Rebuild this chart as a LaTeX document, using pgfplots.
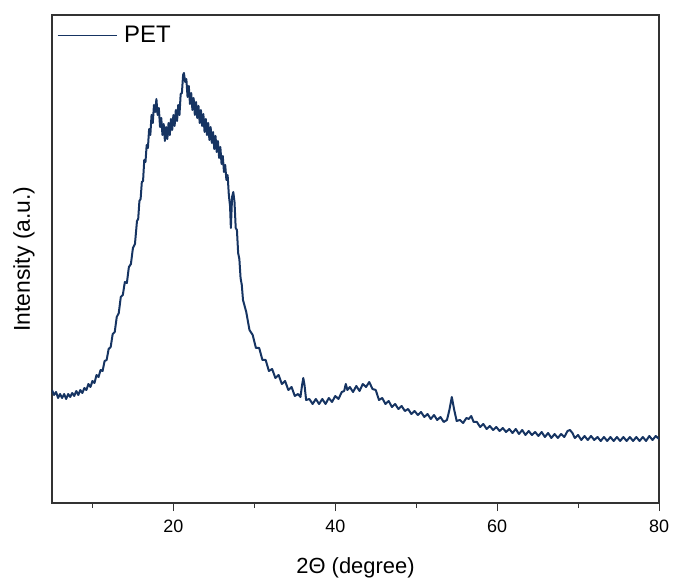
\documentclass[border=0pt]{standalone}
\usepackage{pgfplots}
\pgfplotsset{compat=1.18}
\usepackage{fontspec}
\setmainfont{Liberation Sans}
\definecolor{curve}{RGB}{22,52,98}
\begin{document}
\begin{tikzpicture}
\path[use as bounding box] (-52bp,-81bp) rectangle (623bp,503bp);
\begin{axis}[
 at={(0,0)}, anchor=south west,
 scale only axis, width=607bp, height=488bp,
 xmin=5, xmax=80, ymin=0, ymax=488,
 xtick={20,40,60,80}, minor xtick={10,30,50,70},
 ytick=\empty,
 xtick pos=bottom, tick align=outside,
 major tick length=8bp, minor tick length=5bp,
 axis line style={line width=1.2bp, color=black!80},
 tick style={line width=1bp, color=black!80},
 /pgf/number format/assume math mode=true,
 xticklabel style={font=\fontsize{18}{21}\selectfont, yshift=-5bp},
 xlabel={2Θ (degree)},
 ylabel={Intensity (a.u.)},
 xlabel style={at={(axis description cs:0.5,-0.133)}, anchor=center, font=\fontsize{22}{26}\selectfont},
 ylabel style={at={(axis description cs:-0.046,0.5)}, anchor=center, font=\fontsize{23}{27}\selectfont},
 legend style={at={(axis description cs:0,1)}, anchor=north west, draw=none, fill=none,
   font=\fontsize{24}{28}\selectfont, inner xsep=5bp, inner ysep=9bp},
 legend image code/.code={\draw[curve, line width=1bp] (0bp,0bp) -- (59bp,0bp);},
]
\addplot[curve, line width=2bp, line join=round] table[x=x, y=y] {
x y
5.00 113
5.25 108
5.50 111
5.75 105
6.00 109
6.25 105
6.50 109
6.75 104
7.00 109
7.25 106
7.50 110
7.75 107
8.00 112
8.25 108
8.50 113
8.75 110
9.00 115
9.25 113
9.50 119
9.75 116
10.00 122
10.25 120
10.50 128
10.75 126
11.00 133
11.25 132
11.50 142
11.75 143
12.00 154
12.25 156
12.50 169
12.75 171
13.00 186
13.25 190
13.50 206
13.75 208
14.00 221
14.25 220
14.50 236
14.75 239
15.00 255
15.25 259
15.50 282
15.65 284
15.80 302
15.95 304
16.10 321
16.25 322
16.40 343
16.55 341
16.70 358
16.85 355
17.00 374
17.15 368
17.30 388
17.45 380
17.60 398
17.75 391
17.90 404
18.05 388
18.20 395
18.35 376
18.50 385
18.65 368
18.80 379
18.95 362
19.10 376
19.25 364
19.40 380
19.55 368
19.70 384
19.85 373
20.00 388
20.15 377
20.30 393
20.45 382
20.60 398
20.75 388
20.90 409
21.05 410
21.20 428
21.30 430
21.45 421
21.60 424
21.75 406
21.90 417
22.05 399
22.20 410
22.35 393
22.50 405
22.65 388
22.80 401
22.95 385
23.10 397
23.25 380
23.40 393
23.55 377
23.70 389
23.85 371
24.00 384
24.15 368
24.30 380
24.45 363
24.60 376
24.75 360
24.90 371
25.05 354
25.20 367
25.35 351
25.50 362
25.65 345
25.80 356
25.95 339
26.10 347
26.25 331
26.40 338
26.55 323
26.70 328
26.85 308
27.00 297
27.10 275
27.25 306
27.40 311
27.55 301
27.70 275
27.85 273
28.00 250
28.15 244
28.30 225
28.45 218
28.60 203
29.00 191
29.40 173
29.80 168
30.20 155
30.60 155
31.00 143
31.40 143
31.80 132
32.20 134
32.60 125
33.00 128
33.40 119
33.80 122
34.20 113
34.60 116
35.00 107
35.40 109
35.70 106
35.90 118
36.05 125
36.20 118
36.40 103
36.80 104
37.20 99
37.60 104
38.00 99
38.40 104
38.80 99
39.20 105
39.60 101
40.00 107
40.40 104
40.80 111
41.10 112
41.30 119
41.50 113
41.80 116
42.20 111
42.60 117
43.00 112
43.40 119
43.80 116
44.20 121
44.60 114
45.00 113
45.40 103
45.80 105
46.20 99
46.60 102
47.00 96
47.40 99
47.80 94
48.20 97
48.60 92
49.00 94
49.40 89
49.80 92
50.20 88
50.60 91
51.00 86
51.40 89
51.80 84
52.20 88
52.60 83
53.00 86
53.40 81
53.80 83
54.10 93
54.40 106
54.70 93
55.00 82
55.40 83
55.80 80
56.20 85
56.50 84
56.80 87
57.10 81
57.50 81
57.90 76
58.30 79
58.70 74
59.10 77
59.50 73
59.90 76
60.30 72
60.70 75
61.10 71
61.50 74
61.90 70
62.30 74
62.70 69
63.10 73
63.50 68
63.90 72
64.30 68
64.70 71
65.10 67
65.50 71
65.90 66
66.30 70
66.70 65
67.10 69
67.50 65
67.90 69
68.30 66
68.70 72
69.00 73
69.30 70
69.60 65
70.00 68
70.40 63
70.80 67
71.20 63
71.60 67
72.00 63
72.40 66
72.80 62
73.20 66
73.60 62
74.00 66
74.40 62
74.80 66
75.20 62
75.60 66
76.00 62
76.40 66
76.80 62
77.20 66
77.60 62
78.00 66
78.40 62
78.80 67
79.20 63
79.60 67
80.00 64
};
\addlegendentry{\hspace{5bp}PET}
\end{axis}
\end{tikzpicture}
\end{document}
